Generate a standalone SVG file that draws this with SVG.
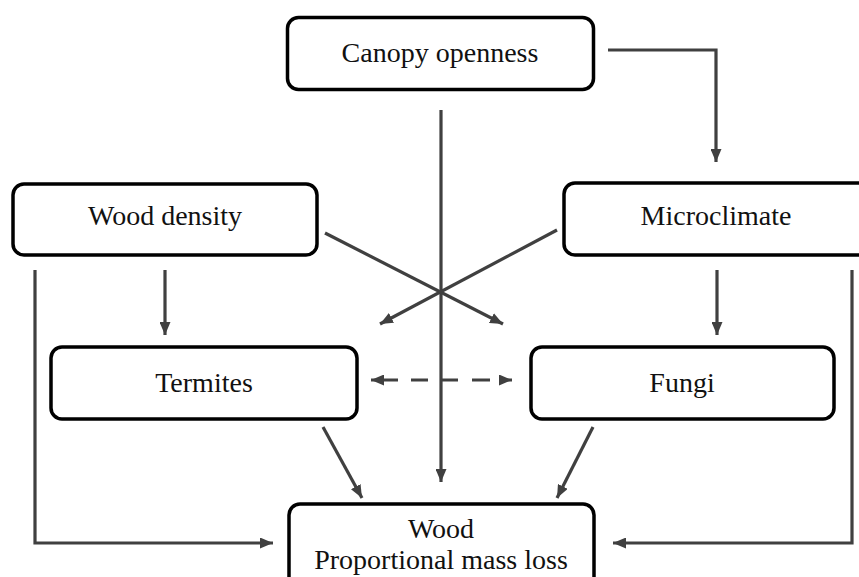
<svg xmlns="http://www.w3.org/2000/svg" width="859" height="577" viewBox="0 0 859 577">
<defs>
<style>
.box{fill:#fff;stroke:#000;stroke-width:3.5}
.lbl{font-family:"Liberation Serif","Times New Roman",serif;font-size:28px;fill:#111;text-anchor:middle}
.c{fill:none;stroke:#404040;stroke-width:3.2}
</style>
<marker id="ah" viewBox="0 0 13 11" refX="13" refY="5.5" markerWidth="13" markerHeight="11" markerUnits="userSpaceOnUse" orient="auto-start-reverse">
<path d="M0,0 L13,5.5 L0,11 z" fill="#404040"/>
</marker>
</defs>
<rect width="859" height="577" fill="#fff"/>
<g id="connectors">
<path class="c" d="M608,50 H716 V162" marker-end="url(#ah)"/>
<path class="c" d="M441,110 V482" marker-end="url(#ah)"/>
<path class="c" d="M35,270 V543 H273" marker-end="url(#ah)"/>
<path class="c" d="M852,270 V543 H613" marker-end="url(#ah)"/>
<path class="c" d="M165,270 V335" marker-end="url(#ah)"/>
<path class="c" d="M717,270 V335" marker-end="url(#ah)"/>
<path class="c" d="M325,233 L503,324" marker-end="url(#ah)"/>
<path class="c" d="M557,230 L380,324" marker-end="url(#ah)"/>
<path class="c" d="M371,380 H512" stroke-dasharray="27 13 17 14 16 14 18 10 12" marker-start="url(#ah)" marker-end="url(#ah)"/>
<path class="c" d="M323,427 L362,498" marker-end="url(#ah)"/>
<path class="c" d="M593,427 L557,498" marker-end="url(#ah)"/>
</g>
<g id="canopy">
<rect class="box" x="287.5" y="17.5" width="306" height="72" rx="11"/>
<text class="lbl" x="440" y="62">Canopy openness</text>
</g>
<g id="wood-density">
<rect class="box" x="13" y="184" width="304" height="71" rx="11"/>
<text class="lbl" x="165" y="225">Wood density</text>
</g>
<g id="microclimate">
<rect class="box" x="564" y="183" width="310" height="72" rx="11"/>
<text class="lbl" x="716" y="225">Microclimate</text>
</g>
<g id="termites">
<rect class="box" x="51" y="347" width="306" height="72" rx="11"/>
<text class="lbl" x="204" y="392">Termites</text>
</g>
<g id="fungi">
<rect class="box" x="531" y="347" width="303" height="72" rx="11"/>
<text class="lbl" x="682" y="392">Fungi</text>
</g>
<g id="wood">
<rect class="box" x="289" y="504" width="305" height="85" rx="11"/>
<text class="lbl" x="441" y="538">Wood</text>
<text class="lbl" x="441" y="569">Proportional mass loss</text>
</g>
</svg>
